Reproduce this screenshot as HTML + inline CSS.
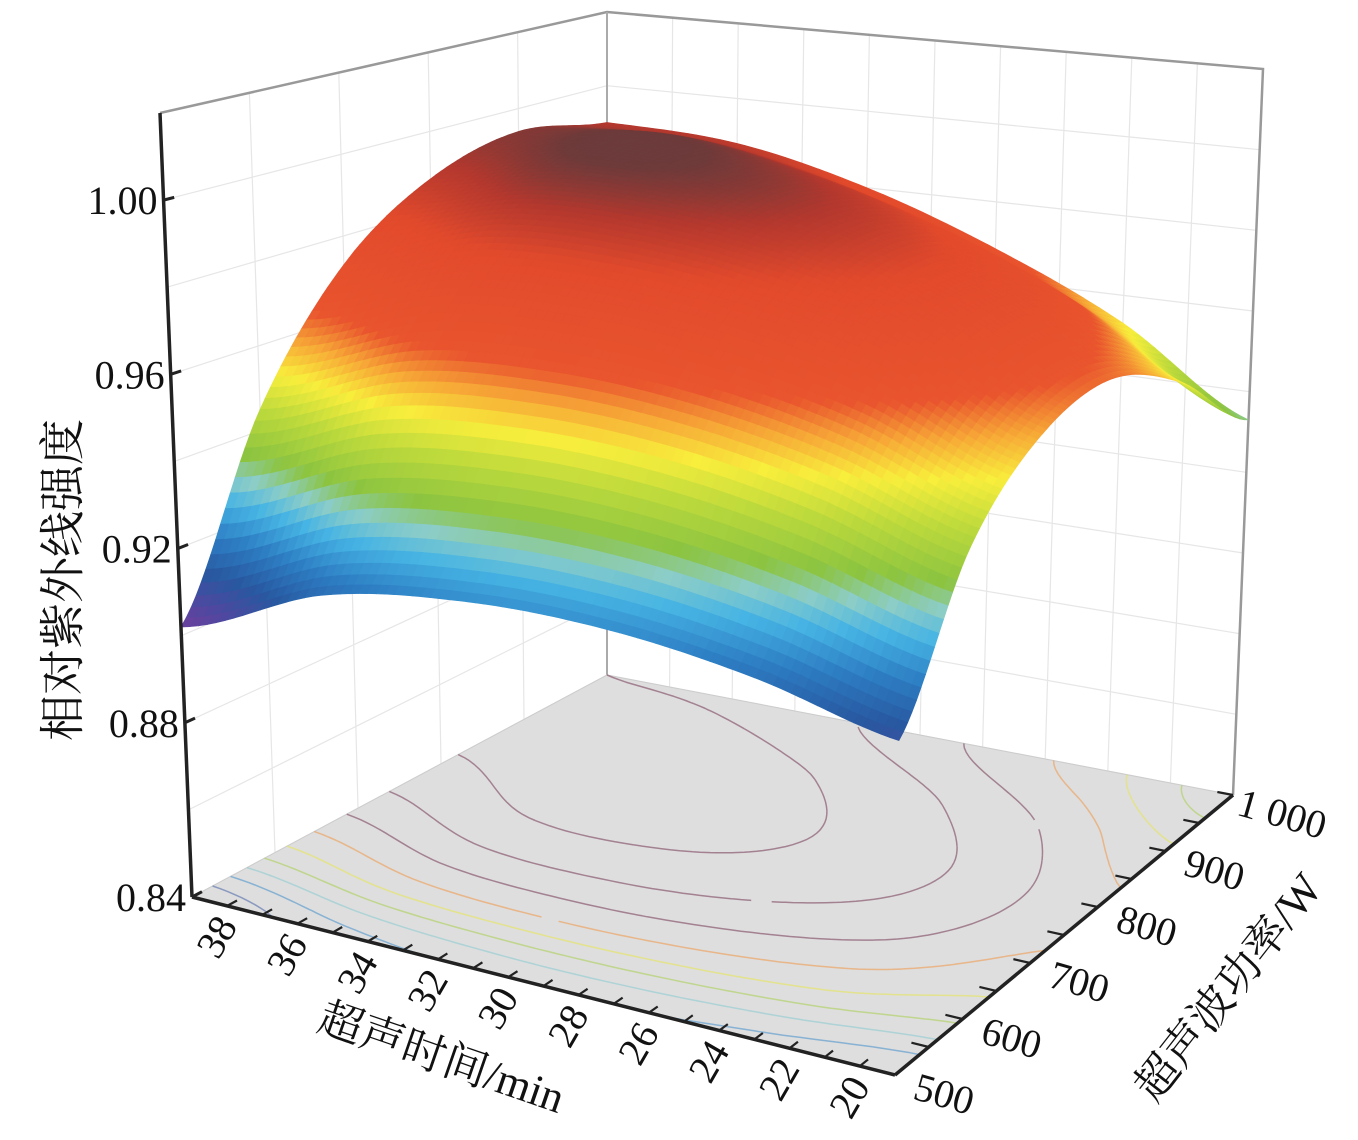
<!DOCTYPE html>
<html><head><meta charset="utf-8">
<style>
html,body{margin:0;padding:0;background:#fff;}
svg{display:block;}
.tk{font-family:"Liberation Serif","Noto Serif CJK SC",serif;font-size:40px;fill:#111;}
.ttl{font-family:"Liberation Serif","Noto Serif CJK SC",serif;font-size:44px;fill:#111;}
</style></head>
<body>
<svg id="chart" width="1358" height="1140" viewBox="0 0 1358 1140" xmlns="http://www.w3.org/2000/svg">
  <g id="walls"></g>
  <g id="floor"></g>
  <g id="surface"></g>
  <g id="axes"></g>
  <text class="ttl" transform="translate(68,580) rotate(-90)" text-anchor="middle" dominant-baseline="middle" style="font-size:46px">相对紫外线强度</text>
  <text class="ttl" transform="translate(440,1062) rotate(19)" text-anchor="middle" dominant-baseline="middle">超声时间/min</text>
  <text class="ttl" transform="translate(1232,990) rotate(-52)" text-anchor="middle" dominant-baseline="middle">超声波功率/W</text>
</svg>
<script>
// ---- data ----
const gridT = [20, 24, 28, 32, 36, 40];
const gridP = [500, 600, 700, 800, 900, 1000];
const zAt500  = [0.910, 0.917, 0.921, 0.921, 0.916, 0.902];
const zAt600  = [0.942, 0.952, 0.958, 0.960, 0.957, 0.945];
const zAt700  = [0.958, 0.972, 0.980, 0.984, 0.983, 0.973];
const zAt800  = [0.962, 0.978, 0.988, 0.994, 0.995, 0.988];
const zAt900  = [0.952, 0.970, 0.983, 0.992, 0.997, 0.994];
const zAt1000 = [0.933, 0.953, 0.968, 0.980, 0.988, 0.990];
const zRows = [zAt500, zAt600, zAt700, zAt800, zAt900, zAt1000];
const zTicks = [0.84, 0.88, 0.92, 0.96, 1.00];
const zTickLabels = ["0.84", "0.88", "0.92", "0.96", "1.00"];
const timeTicks = [38, 36, 34, 32, 30, 28, 26, 24, 22, 20];
const powerTicks = [500, 600, 700, 800, 900, 1000];
const powerTickLabels = ["500", "600", "700", "800", "900", "1 000"];
const contourLevels = [0.91, 0.92, 0.93, 0.94, 0.95, 0.96, 0.97, 0.98, 0.99];

// ---- projection ----
const NS = "http://www.w3.org/2000/svg";
const FL = {L:[192,897], F:[895,1075], R:[1233,795], B:[607,675]};
const TP = {L:[160,113], F:[905,215], R:[1263,69], B:[607,12]};
const tMin = 20, tMax = 40, pMin = 500, pMax = 1000, zMin = 0.84, zMax = 1.02;
function bil(C, u, v){
  const a=(1-u)*(1-v), b=u*(1-v), c=u*v, d=(1-u)*v;
  return [a*C.L[0]+b*C.F[0]+c*C.R[0]+d*C.B[0], a*C.L[1]+b*C.F[1]+c*C.R[1]+d*C.B[1]];
}
function proj(t, p, z){
  const u=(tMax-t)/(tMax-tMin), v=(p-pMin)/(pMax-pMin), w=(z-zMin)/(zMax-zMin);
  const f=bil(FL,u,v), g=bil(TP,u,v);
  return [f[0]+w*(g[0]-f[0]), f[1]+w*(g[1]-f[1])];
}
function cub(arr, x){
  const n=arr.length; let i=Math.floor(x); if(i>n-2) i=n-2; if(i<0) i=0;
  const s=x-i;
  const g=k=>arr[Math.max(0,Math.min(n-1,k))];
  const p0=g(i-1),p1=g(i),p2=g(i+1),p3=g(i+2);
  return 0.5*((2*p1)+(-p0+p2)*s+(2*p0-5*p1+4*p2-p3)*s*s+(-p0+3*p1-3*p2+p3)*s*s*s);
}
function zAt(t, p){
  const xi=(t-gridT[0])/(gridT[1]-gridT[0]);
  const yi=(p-gridP[0])/(gridP[1]-gridP[0]);
  const col=zRows.map(r=>cub(r,xi));
  return cub(col,yi);
}
const stops=[[0.900,[122,60,155]],[0.906,[80,72,160]],[0.912,[40,88,160]],[0.919,[45,125,195]],[0.926,[70,180,228]],[0.931,[140,205,200]],[0.936,[140,196,64]],[0.945,[190,218,60]],[0.952,[248,238,60]],[0.958,[247,170,55]],[0.964,[233,85,46]],[0.982,[226,74,44]],[0.990,[180,56,46]],[0.996,[110,58,58]],[1.010,[90,72,72]]];
function cmap(z){
  if(z<=stops[0][0]) return stops[0][1];
  for(let i=1;i<stops.length;i++){
    if(z<=stops[i][0]){
      const a=stops[i-1],b=stops[i],s=(z-a[0])/(b[0]-a[0]);
      return a[1].map((c,k)=>Math.round(c+s*(b[1][k]-c)));
    }
  }
  return stops[stops.length-1][1];
}
function rgb(c){return "rgb("+c[0]+","+c[1]+","+c[2]+")";}
function mk(tag, attrs, parent){
  const el=document.createElementNS(NS,tag);
  for(const k in attrs) el.setAttribute(k,attrs[k]);
  parent.appendChild(el); return el;
}
function pts(a){return a.map(q=>q[0].toFixed(1)+","+q[1].toFixed(1)).join(" ");}

// ---- walls ----
const walls=document.getElementById("walls");
const gridColor="#e6e6e6";
zTicks.concat([0.86,0.90,0.94,0.98,1.02]).forEach(z=>{
  const a=proj(40,500,z), b=proj(40,1000,z), c=proj(20,1000,z);
  const l=mk("polyline",{points:pts([a,b,c]),fill:"none",stroke:gridColor,"stroke-width":1.2},walls);
  
  
});
[600,700,800,900].forEach(p=>{
  const l=mk("line",{x1:proj(40,p,zMin)[0],y1:proj(40,p,zMin)[1],x2:proj(40,p,zMax)[0],y2:proj(40,p,zMax)[1],stroke:gridColor,"stroke-width":1.2},walls);
  
  
});
[38,36,34,32,30,28,26,24,22].forEach(t=>{
  const l=mk("line",{x1:proj(t,1000,zMin)[0],y1:proj(t,1000,zMin)[1],x2:proj(t,1000,zMax)[0],y2:proj(t,1000,zMax)[1],stroke:gridColor,"stroke-width":1.2},walls);
  
  
});
const frame=mk("polyline",{points:pts([proj(40,500,zMax),proj(40,1000,zMax),proj(20,1000,zMax),proj(20,1000,zMin)]),fill:"none",stroke:"#999","stroke-width":2.5},walls);


const backEdge=mk("line",{x1:proj(40,1000,zMin)[0],y1:proj(40,1000,zMin)[1],x2:proj(40,1000,zMax)[0],y2:proj(40,1000,zMax)[1],stroke:"#aaa","stroke-width":2},walls);



// ---- floor ----
const floor=document.getElementById("floor");
const fpoly=mk("polygon",{points:pts([proj(40,500,zMin),proj(20,500,zMin),proj(20,1000,zMin),proj(40,1000,zMin)]),fill:"#dedede",stroke:"#cccccc","stroke-width":1},floor);


const N=80;
const zg=[];
for(let j=0;j<=N;j++){const row=[];for(let i=0;i<=N;i++){row.push(zAt(tMin+(tMax-tMin)*i/N,pMin+(pMax-pMin)*j/N));}zg.push(row);}
function gtp(i,j){return [tMin+(tMax-tMin)*i/N,pMin+(pMax-pMin)*j/N];}
contourLevels.forEach(lv=>{
  let d="";
  for(let j=0;j<N;j++)for(let i=0;i<N;i++){
    const c=[[i,j],[i+1,j],[i+1,j+1],[i,j+1]];
    const cr=[];
    for(let e=0;e<4;e++){
      const a=c[e],b=c[(e+1)%4];
      const za=zg[a[1]][a[0]],zb=zg[b[1]][b[0]];
      if((za-lv)*(zb-lv)<0){
        const s=(lv-za)/(zb-za);
        const ta=gtp(a[0],a[1]),tb=gtp(b[0],b[1]);
        cr.push(proj(ta[0]+s*(tb[0]-ta[0]),ta[1]+s*(tb[1]-ta[1]),zMin));
      }
    }
    for(let k=0;k+1<cr.length;k+=2) d+="M"+cr[k][0].toFixed(1)+","+cr[k][1].toFixed(1)+"L"+cr[k+1][0].toFixed(1)+","+cr[k+1][1].toFixed(1);
  }
  const col=lv>=0.965?"#8a5a70":rgb(cmap(lv));
  const path=mk("path",{d:d,fill:"none",stroke:col,"stroke-width":1.5,opacity:lv>=0.965?0.7:0.5},floor);
  
  
});

// ---- surface ----
const surf=document.getElementById("surface");
const quads=[];
for(let j=0;j<N;j++)for(let i=0;i<N;i++){
  const a=gtp(i,j),b=gtp(i+1,j),c=gtp(i+1,j+1),d=gtp(i,j+1);
  const za=zg[j][i],zb=zg[j][i+1],zc=zg[j+1][i+1],zd=zg[j+1][i];
  const u=((tMax-(a[0]+b[0])/2)/(tMax-tMin)), v=((a[1]+d[1])/2-pMin)/(pMax-pMin);
  quads.push({dist:(1-u)+v,poly:[proj(a[0],a[1],za),proj(b[0],b[1],zb),proj(c[0],c[1],zc),proj(d[0],d[1],zd)],z:(za+zb+zc+zd)/4});
}
quads.sort((q1,q2)=>q2.dist-q1.dist);
quads.forEach(q=>{
  const col=rgb(cmap(q.z));
  const el=mk("polygon",{points:pts(q.poly),fill:col,stroke:col,"stroke-width":0.7},surf);
  
  
});

// ---- axes ----
const axes=document.getElementById("axes");
function line(a,b,w,name){
  const l=mk("line",{x1:a[0],y1:a[1],x2:b[0],y2:b[1],stroke:"#222","stroke-width":w},axes);
  
  
}
line(proj(40,500,zMax),proj(40,500,zMin),3.5,'z-axis-line');
line(proj(40,500,zMin),proj(20,500,zMin),3.5,'time-axis-line');
line(proj(20,500,zMin),proj(20,1000,zMin),3.5,'power-axis-line');
zTicks.forEach((z,k)=>{
  const a=proj(40,500,z), b=proj(40,512,z);
  line(a,b,3,'z-tick');
  const t=mk("text",{x:a[0]-6,y:a[1]+14,"text-anchor":"end",class:"tk"},axes);
  t.textContent=zTickLabels[k];
  
  
});
for(let t=39;t>=20;t--){
  const a=proj(t,500,zMin), b=proj(t,512,zMin);
  line(a,b,2.2,'time-tick');
}
timeTicks.forEach(tv=>{
  const a=proj(tv,500,zMin);
  const t=mk("text",{transform:"translate("+(a[0]-42).toFixed(1)+","+(a[1]+24).toFixed(1)+") rotate(-60)","text-anchor":"middle","dominant-baseline":"middle",class:"tk"},axes);
  t.textContent=String(tv);
  
  
});
for(let p=550;p<=1000;p+=50){
  const a=proj(20,p,zMin), b=proj(20.5,p,zMin);
  line(a,b,2.2,'power-tick');
}
powerTicks.forEach((pv,k)=>{
  const a=proj(20,pv,zMin);
  const t=mk("text",{transform:"translate("+(a[0]+48).toFixed(1)+","+(a[1]+23).toFixed(1)+") rotate(16)","text-anchor":"middle","dominant-baseline":"middle",class:"tk"},axes);
  t.textContent=powerTickLabels[k];
  
  
});
</script>
</body></html>
